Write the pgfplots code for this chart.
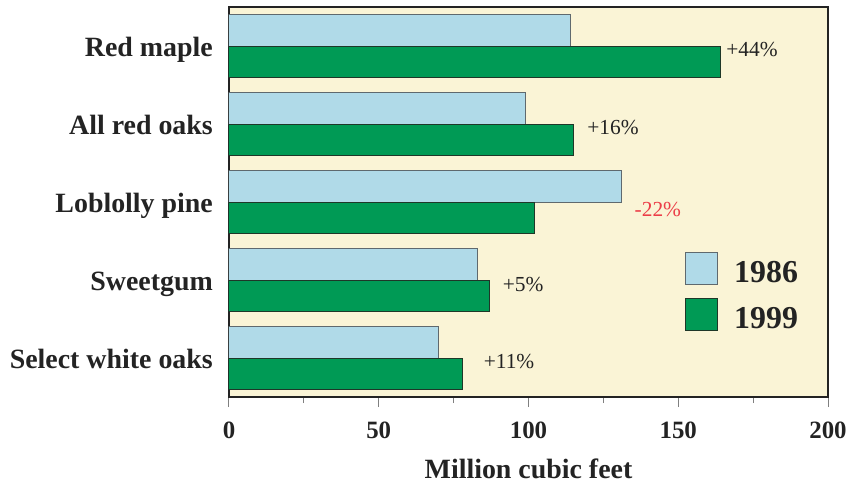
\documentclass[border=0pt]{standalone}
\usepackage{pgfplots}
\pgfplotsset{compat=1.18}
\usepackage{fontspec}
\setmainfont{Liberation Serif}
\definecolor{cream}{RGB}{250,244,214}
\definecolor{lblue}{RGB}{176,218,232}
\definecolor{dgreen}{RGB}{0,154,85}
\definecolor{redtxt}{RGB}{236,62,72}
\definecolor{txt}{RGB}{35,35,35}
\definecolor{edgeb}{RGB}{95,105,110}
\definecolor{edgeg}{RGB}{30,55,40}
\begin{document}
\begin{tikzpicture}
\useasboundingbox (-229bp,-88bp) rectangle (623bp,397bp);
\begin{axis}[
  at={(0,0)}, anchor=south west,
  scale only axis, width=599bp, height=390bp,
  xmin=0, xmax=200, ymin=-0.5, ymax=4.5,
  axis background/.style={fill=cream},
  axis line style={line width=1.5bp, draw=txt},
  xtick={0,50,...,200}, minor xtick={25,75,125,175},
  xtick pos=lower, ytick pos=left,
  tick align=outside,
  major tick length=10bp, minor tick length=6bp,
  tick style={draw=gray, line width=1bp},
  ytick={0,1,2,3,4},
  yticklabels={Select white oaks,Sweetgum,Loblolly pine,All red oaks,Red maple},
  ytick style={draw=none},
  /pgf/number format/assume math mode=true,
  xticklabel style={font=\fontsize{25}{25}\selectfont\bfseries, text=txt, anchor=base, yshift=-31bp},
  yticklabel style={font=\fontsize{28}{28}\selectfont\bfseries, text=txt, anchor=base east, inner sep=0pt, xshift=-6bp, yshift=-10bp},
  xlabel={Million cubic feet},
  xlabel style={font=\fontsize{28}{28}\selectfont\bfseries, text=txt, at={(axis description cs:0.5,0)}, anchor=base, yshift=-81bp},
  legend style={at={(0.7613,0.3718)}, anchor=north west, draw=none, fill=none, inner sep=0pt,
    font=\fontsize{32}{32}\selectfont\bfseries, text=txt, row sep=13bp, column sep=16bp,
    nodes={inner sep=0pt}},
  legend cell align=left,
  legend image code/.code={\draw[#1] (0bp,-12bp) rectangle (32bp,20bp);},
]
\addplot[xbar, bar width=0.41, fill=lblue, draw=edgeb, line width=1bp]
  coordinates {(114,4.205) (99,3.205) (131,2.205) (83,1.205) (70,0.205)};
\addplot[xbar, bar width=0.41, fill=dgreen, draw=edgeg, line width=1bp]
  coordinates {(164,3.795) (115,2.795) (102,1.795) (87,0.795) (78,-0.205)};
\legend{1986,1999}
\node[font=\fontsize{21.5}{21.5}\selectfont, text=txt, inner sep=0pt] at (axis cs:174.6,3.95) {+44\%};
\node[font=\fontsize{21.5}{21.5}\selectfont, text=txt, inner sep=0pt] at (axis cs:128.2,2.95) {+16\%};
\node[font=\fontsize{21.5}{21.5}\selectfont, text=redtxt, inner sep=0pt] at (axis cs:143.2,1.91) {-22\%};
\node[font=\fontsize{21.5}{21.5}\selectfont, text=txt, inner sep=0pt] at (axis cs:98.2,0.94) {+5\%};
\node[font=\fontsize{21.5}{21.5}\selectfont, text=txt, inner sep=0pt] at (axis cs:93.5,-0.05) {+11\%};
\end{axis}
\end{tikzpicture}
\end{document}
